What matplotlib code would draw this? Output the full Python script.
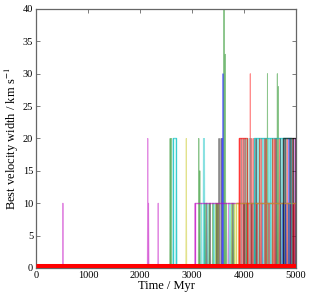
import matplotlib

matplotlib.use("Agg")
import matplotlib.pyplot as plt

plt.rcParams["font.family"] = ["Liberation Serif", "DejaVu Serif"]
plt.rcParams["mathtext.fontset"] = "stix"

# classic matplotlib single-letter colours
COLORS = {"b": "#0000ff", "g": "#008000", "r": "#ff0000", "c": "#00bfbf",
          "m": "#bf00bf", "y": "#bfbf00", "k": "#000000"}

# short-lived jumps in best velocity width, per colour: time (Myr), width (km/s)
m_t = [520, 2150, 2165, 2350, 3060, 3700, 4350, 4700, 4950, 4980]
m_h = [10, 20, 10, 10, 10, 10, 10, 10, 10, 20]
g_t = [2580, 2600, 3130, 3150, 3615, 3640, 4450, 4420, 4640, 4660,
       3250, 3330, 3400, 3660, 3800, 4050, 4060, 4200, 4300, 4550, 4850]
g_h = [20, 20, 20, 15, 40, 33, 30, 20, 30, 28,
       10, 10, 10, 10, 10, 10, 20, 10, 20, 20, 10]
c_t = [2640, 2700, 3180, 3220, 3240, 3300, 3420, 3450, 3720, 3750, 3950,
       4000, 4030, 4100, 4130, 4200, 4250, 4280, 4350, 4370, 4400, 4470,
       4500, 4520, 4600, 4700, 4730, 4800, 4900]
c_h = [20, 20, 10, 20, 20, 10, 10, 10, 10, 10, 20,
       20, 20, 20, 20, 20, 20, 20, 20, 20, 20, 20,
       20, 20, 20, 20, 20, 20, 10]
y_t = [2890, 3460, 3500, 3760, 3820, 3900]
y_h = [20, 10, 10, 10, 10, 10]
k_t = [3280, 3350, 3480, 3520, 3560, 3780, 4000, 4150, 4230, 4620, 4700,
       4770, 4800, 4880, 4900, 4940, 4950, 4990]
k_h = [10, 10, 10, 20, 20, 10, 10, 10, 20, 20, 20,
       20, 20, 20, 20, 20, 20, 20]
b_t = [3580, 3595, 4750, 4800, 4860, 4900]
b_h = [20, 30, 10, 10, 20, 10]
r_t = [3910, 3940, 3980, 4020, 4080, 4120, 4150, 4180, 4250, 4300, 4330,
       4400, 4430, 4480, 4550, 4580, 4600, 4680, 4830, 4900, 4920, 4960]
r_h = [20, 20, 20, 20, 10, 30, 20, 20, 10, 20, 20,
       20, 20, 10, 20, 20, 20, 20, 20, 10, 20, 10]

spikes = {"m": (m_t, m_h), "g": (g_t, g_h), "c": (c_t, c_h), "y": (y_t, y_h),
          "k": (k_t, k_h), "b": (b_t, b_h), "r": (r_t, r_h)}

# sustained widths: start (Myr), end (Myr), width (km/s), colour
plat_t0 = [2640, 3060, 3850, 3910, 4200, 4750]
plat_t1 = [2700, 5000, 5000, 4050, 4900, 5000]
plat_h = [20, 10, 10, 20, 20, 20]
plat_c = ["c", "m", "y", "r", "c", "k"]

fig, ax = plt.subplots(figsize=(3.12, 3.0), dpi=100)
fig.subplots_adjust(left=0.115, right=0.949, top=0.97, bottom=0.107)

hw = 8  # half width of a spike in Myr
for c, (ts, hs) in spikes.items():
    for t, h in zip(ts, hs):
        ax.plot([t - hw, t, t + hw], [0, h, 0], color=COLORS[c], lw=0.7, alpha=0.45)

for t0, t1, h, c in zip(plat_t0, plat_t1, plat_h, plat_c):
    ax.plot([t0, t0, t1, t1], [0, h, h, 0], color=COLORS[c], lw=1.0, alpha=0.6)

# the bulk of the sample stays at zero width
ax.plot([0, 5000], [0, 0], color="red", lw=6.5, solid_capstyle="butt", zorder=5)

ax.set_xlim(0, 5000)
ax.set_ylim(0, 40)
ax.set_xticks(range(0, 5001, 1000))
ax.set_yticks(range(0, 41, 5))
ax.tick_params(direction="in", top=True, right=True, labelsize=7.5, length=3,
               width=0.6, color="0.4", pad=2)
for s in ax.spines.values():
    s.set_color("0.4")
    s.set_linewidth(0.9)

ax.set_xlabel("Time / Myr", fontsize=9, labelpad=0)
ax.set_ylabel("Best velocity width / km s$^{-1}$", fontsize=9, labelpad=1)

fig.savefig("out.png", dpi=100)
